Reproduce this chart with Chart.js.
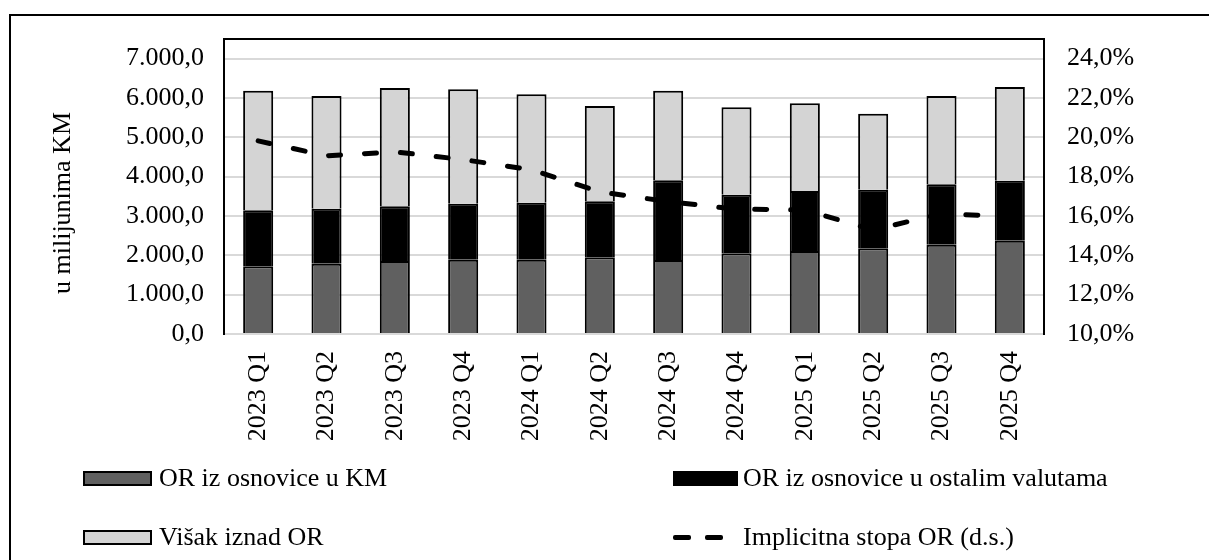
<!DOCTYPE html>
<html>
<head>
<meta charset="utf-8">
<script src="https://cdn.jsdelivr.net/npm/chart.js@4.4.1/dist/chart.umd.min.js"></script>
<style>
    html, body { margin: 0; padding: 0; width: 1209px; height: 560px; overflow: hidden; background: #fff; }
    #frame { position: absolute; left: 9px; top: 14px; width: 1400px; height: 800px; border: 2px solid #000; box-sizing: border-box; }
    #chart { position: absolute; left: 0; top: 0; }
    .lg { position: absolute; font-family: 'Liberation Serif', 'Times New Roman', serif; font-size: 26px; line-height: 30px; color: #000; white-space: nowrap; }
    .box { position: absolute; height: 15px; border: 2px solid #000; box-sizing: border-box; }
    .dash { position: absolute; height: 5px; background: #000; border-radius: 2px; }
</style>
</head>
<body>
<div id="frame"></div>
<canvas id="chart" width="1209" height="560"></canvas>
<div id="legend"></div>
<script>
// Quarters on the category axis
const quarters = ['2023 Q1', '2023 Q2', '2023 Q3', '2023 Q4', '2024 Q1', '2024 Q2',
    '2024 Q3', '2024 Q4', '2025 Q1', '2025 Q2', '2025 Q3', '2025 Q4'];

// Stacked bars, millions KM
const orKM = [1721, 1788, 1856, 1889, 1889, 1950, 1881, 2052, 2110, 2179, 2271, 2372];
const orOstale = [1424, 1398, 1391, 1424, 1449, 1424, 2027, 1490, 1526, 1490, 1535, 1526];
const visak = [3041, 2865, 3008, 2909, 2757, 2423, 2278, 2222, 2230, 1932, 2245, 2382];

// Implied reserve requirement rate, % (right axis)
const stopa = [19.82, 19.06, 19.26, 18.87, 18.35, 17.23, 16.73, 16.35, 16.31, 15.29, 16.12, 15.97];

// Tick labels
const leftTicks = [0, 1000, 2000, 3000, 4000, 5000, 6000, 7000];
const rightTicks = [10, 12, 14, 16, 18, 20, 22, 24];

const labelNames = ['OR iz osnovice u KM', 'OR iz osnovice u ostalim valutama', 'Višak iznad OR', 'Implicitna stopa OR (d.s.)'];
const yTitle = 'u milijunima KM';

const FONT = "'Liberation Serif', 'Times New Roman', serif";

function fmtKM(v) {
    const p = v.toFixed(1).split('.');
    return p[0].replace(/\B(?=(\d{3})+(?!\d))/g, '.') + ',' + p[1];
}
function fmtPct(v) {
    return v.toFixed(1).replace('.', ',') + '%';
}

// top border of plot area + rotated axis title
const framePlugin = {
    id: 'framePlugin',
    afterDraw(chart) {
        const ctx = chart.ctx;
        const a = chart.chartArea;
        ctx.save();
        ctx.strokeStyle = '#000';
        ctx.lineWidth = 2;
        ctx.beginPath();
        ctx.moveTo(a.left - 1, a.top);
        ctx.lineTo(a.right + 1, a.top);
        ctx.stroke();

        ctx.translate(70, 203);
        ctx.rotate(-Math.PI / 2);
        ctx.font = '26px ' + FONT;
        ctx.fillStyle = '#000';
        ctx.textAlign = 'center';
        ctx.textBaseline = 'alphabetic';
        ctx.fillText(yTitle, 0, 0);
        ctx.restore();
    }
};

const barCommon = {
    borderColor: '#000',
    borderWidth: 2,
    barPercentage: 0.44,
    categoryPercentage: 1,
    yAxisID: 'y',
    stack: 's',
    order: 1
};

const ctx = document.getElementById('chart').getContext('2d');
new Chart(ctx, {
    type: 'bar',
    data: {
        labels: quarters,
        datasets: [
            Object.assign({ label: labelNames[0], data: orKM, backgroundColor: '#606060' }, barCommon),
            Object.assign({ label: labelNames[1], data: orOstale, backgroundColor: '#000000' }, barCommon),
            Object.assign({ label: labelNames[2], data: visak, backgroundColor: '#d4d4d4' }, barCommon),
            {
                type: 'line',
                label: labelNames[3],
                data: stopa,
                yAxisID: 'y2',
                borderColor: '#000',
                borderWidth: 5,
                borderDash: [12, 24],
                borderCapStyle: 'round',
                pointRadius: 0,
                tension: 0,
                fill: false,
                order: 0
            }
        ]
    },
    options: {
        responsive: false,
        animation: false,
        devicePixelRatio: 1,
        layout: { padding: { top: 39, left: 0, right: 0, bottom: 0 } },
        plugins: {
            legend: { display: false },
            tooltip: { enabled: false }
        },
        scales: {
            x: {
                stacked: true,
                grid: { display: false, drawTicks: false },
                border: { display: true, color: '#d9d9d9', width: 2 },
                ticks: {
                    minRotation: 90,
                    maxRotation: 90,
                    padding: 17,
                    color: '#000',
                    font: { family: FONT, size: 26 }
                },
                afterFit(scale) { scale.height = 226; }
            },
            y: {
                stacked: true,
                position: 'left',
                min: 0,
                max: 7500,
                afterBuildTicks(scale) { scale.ticks = leftTicks.map(v => ({ value: v })); },
                grid: { color: '#d9d9d9', lineWidth: 2, drawTicks: false },
                border: { display: true, color: '#000', width: 2 },
                ticks: {
                    padding: 20,
                    color: '#000',
                    font: { family: FONT, size: 26 },
                    callback: v => fmtKM(v)
                },
                afterFit(scale) { scale.width = 224; }
            },
            y2: {
                position: 'right',
                min: 10,
                max: 25,
                afterBuildTicks(scale) { scale.ticks = rightTicks.map(v => ({ value: v })); },
                grid: { display: false, drawTicks: false },
                border: { display: true, color: '#000', width: 2 },
                ticks: {
                    padding: 23,
                    color: '#000',
                    font: { family: FONT, size: 26 },
                    callback: v => fmtPct(v)
                },
                afterFit(scale) { scale.width = 165; }
            }
        }
    },
    plugins: [framePlugin]
});

// Two-column legend under the chart
const legendEl = document.getElementById('legend');
const legendItems = [
    { kind: 'box', fill: '#606060', x: 83, w: 69, tx: 159, row: 0, name: labelNames[0] },
    { kind: 'box', fill: '#000000', x: 673, w: 65, tx: 743, row: 0, name: labelNames[1] },
    { kind: 'box', fill: '#d4d4d4', x: 83, w: 69, tx: 159, row: 1, name: labelNames[2] },
    { kind: 'line', x: 673, tx: 743, row: 1, name: labelNames[3] }
];
const rowMid = [478, 537];
legendItems.forEach(it => {
    const mid = rowMid[it.row];
    if (it.kind === 'box') {
        const b = document.createElement('div');
        b.className = 'box';
        b.style.left = it.x + 'px';
        b.style.top = (mid - 7) + 'px';
        b.style.width = it.w + 'px';
        b.style.background = it.fill;
        legendEl.appendChild(b);
    } else {
        [0, 32].forEach(off => {
            const d = document.createElement('div');
            d.className = 'dash';
            d.style.left = (it.x + off) + 'px';
            d.style.top = (mid - 2) + 'px';
            d.style.width = '18px';
            legendEl.appendChild(d);
        });
    }
    const t = document.createElement('div');
    t.className = 'lg';
    t.style.left = it.tx + 'px';
    t.style.top = (mid - 15) + 'px';
    t.textContent = it.name;
    legendEl.appendChild(t);
});
</script>
</body>
</html>
